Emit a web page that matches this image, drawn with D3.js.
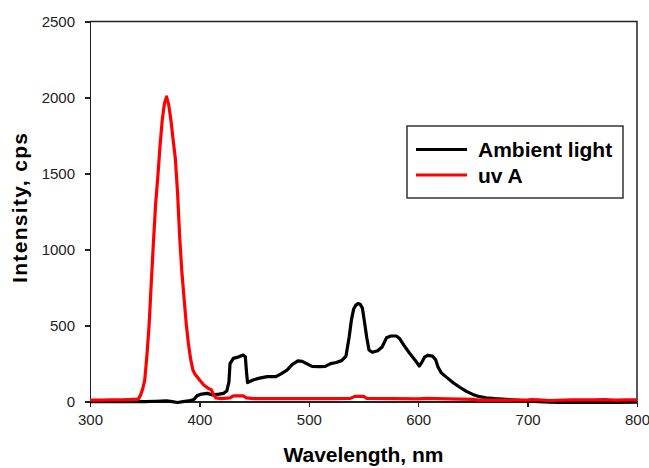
<!DOCTYPE html>
<html>
<head>
<meta charset="utf-8">
<script src="https://cdn.jsdelivr.net/npm/d3@7"></script>
<style>
    body { margin: 0; background: #fff; }
    .tick text { font-family: "Liberation Sans", Arial, sans-serif; font-size: 15px; fill: #222; }
    .axis path, .axis line { stroke: #222; stroke-width: 1.5px; shape-rendering: crispEdges; }
    .title { font-family: "Liberation Sans", Arial, sans-serif; font-weight: bold; font-size: 21px; fill: #000; }
    .legend text { font-family: "Liberation Sans", Arial, sans-serif; font-weight: bold; font-size: 21px; fill: #000; }
    .series { fill: none; stroke-width: 3.2px; stroke-linejoin: round; }
</style>
</head>
<body>
<div id="chart"></div>
<script>
    // wavelength (nm) / intensity (cps)
    var ambientNm = [300, 310, 320, 330, 340, 350, 360, 370, 375, 380, 385, 390, 395, 398, 402, 407, 412, 418, 422, 425,
        427, 428, 431, 436, 440, 442, 443, 444, 449, 455, 462, 470, 475, 480, 485, 490, 494, 498, 503, 510,
        515, 520, 525, 530, 534, 537, 539, 541, 543, 545, 547, 549, 551, 553, 555, 558, 563, 567, 571, 575,
        580, 583, 587, 592, 597, 601, 603, 606, 609, 613, 616, 618, 621, 626, 632, 638, 644, 650, 656, 662,
        670, 680, 690, 700, 710, 720, 730, 740, 760, 780, 800];
    var ambientVal = [0, 0, 2, 0, 2, 0, 3, 5, 0, -5, 0, 5, 15, 40, 50, 55, 45, 50, 55, 70,
        130, 250, 285, 295, 307, 295, 200, 125, 143, 155, 165, 165, 185, 208, 245, 268, 265, 250, 232, 230,
        232, 250, 258, 270, 300, 430, 540, 610, 635, 645, 640, 615, 520, 420, 340, 325, 335, 360, 420, 432,
        432, 415, 370, 320, 275, 235, 255, 295, 305, 300, 275, 230, 190, 160, 125, 95, 68, 48, 33, 26,
        20, 15, 10, 5, 0, -3, -5, -5, -5, -5, -3];

    var uvNm = [300, 310, 320, 330, 340, 344, 346, 348, 350, 352, 354, 356, 358, 360, 362, 364, 366, 368, 370, 372,
        374, 376, 378, 380, 382, 384, 386, 388, 390, 392, 394, 396, 400, 404, 408, 411, 413, 415, 420, 428,
        431, 440, 443, 450, 500, 520, 538, 542, 550, 553, 600, 608, 616, 650, 655, 700, 703, 710, 720, 740,
        760, 770, 780, 790, 800];
    var uvVal = [10, 10, 12, 12, 15, 15, 40, 80, 140, 300, 500, 780, 1050, 1300, 1480, 1680, 1850, 1960, 2005, 1950,
        1850, 1720, 1600, 1380, 1080, 850, 680, 510, 380, 280, 210, 180, 145, 110, 88, 78, 45, 25, 20, 25,
        38, 38, 25, 20, 20, 20, 22, 35, 35, 22, 18, 22, 20, 15, 10, 10, 14, 12, 8, 12,
        12, 14, 10, 12, 12];

    var seriesNames = ["Ambient light", "uv A"];
    var seriesColors = ["#000000", "#ff0000"];
    var xTicks = [300, 400, 500, 600, 700, 800];
    var yTicks = [0, 500, 1000, 1500, 2000, 2500];

    var width = 649, height = 468;
    var margin = { top: 21.5, right: 12, bottom: 66.3, left: 90 };

    var svg = d3.select("#chart")
        .append("svg")
        .attr("width", width)
        .attr("height", height);

    var x = d3.scaleLinear().domain([300, 800]).range([margin.left, width - margin.right]);
    var y = d3.scaleLinear().domain([0, 2500]).range([height - margin.bottom, margin.top]);

    // frame (top & right)
    svg.append("path")
        .attr("d", "M" + x(300) + "," + y(2500) + "H" + x(800) + "V" + y(0))
        .attr("fill", "none")
        .attr("stroke", "#222")
        .attr("stroke-width", 1.5);

    svg.append("g")
        .attr("class", "axis")
        .attr("transform", "translate(0," + y(0) + ")")
        .call(d3.axisBottom(x).tickValues(xTicks).tickFormat(d3.format("d"))
            .tickSize(5).tickPadding(8).tickSizeOuter(0));

    svg.append("g")
        .attr("class", "axis")
        .attr("transform", "translate(" + x(300) + ",0)")
        .call(d3.axisLeft(y).tickValues(yTicks).tickFormat(d3.format("d"))
            .tickSize(5).tickPadding(10).tickSizeOuter(0));

    svg.selectAll(".tick text").attr("fill", "#222");

    var line = d3.line()
        .x(function (d) { return x(d[0]); })
        .y(function (d) { return y(d[1]); });

    var seriesData = [
        d3.zip(ambientNm, ambientVal),
        d3.zip(uvNm, uvVal)
    ];

    svg.selectAll("path.series")
        .data(seriesData)
        .enter()
        .append("path")
        .attr("class", "series")
        .attr("stroke", function (d, i) { return seriesColors[i]; })
        .attr("d", line);

    // axis titles
    svg.append("text")
        .attr("class", "title")
        .attr("x", (x(300) + x(800)) / 2)
        .attr("y", 462)
        .attr("text-anchor", "middle")
        .attr("textLength", 160)
        .text("Wavelength, nm");

    svg.append("text")
        .attr("class", "title")
        .attr("transform", "translate(27,208) rotate(-90)")
        .attr("text-anchor", "middle")
        .attr("textLength", 150)
        .text("Intensity, cps");

    // legend
    var legend = svg.append("g").attr("class", "legend");
    legend.append("rect")
        .attr("x", 407).attr("y", 126)
        .attr("width", 216).attr("height", 72)
        .attr("fill", "#fff")
        .attr("stroke", "#333")
        .attr("stroke-width", 1.5);

    seriesNames.forEach(function (name, i) {
        var ly = 149.5 + i * 25.5;
        legend.append("line")
            .attr("x1", 416).attr("x2", 467)
            .attr("y1", ly).attr("y2", ly)
            .attr("stroke", seriesColors[i])
            .attr("stroke-width", 3.2);
        legend.append("text")
            .attr("x", 478)
            .attr("y", ly + 7.5)
            .text(name);
    });
</script>
</body>
</html>
